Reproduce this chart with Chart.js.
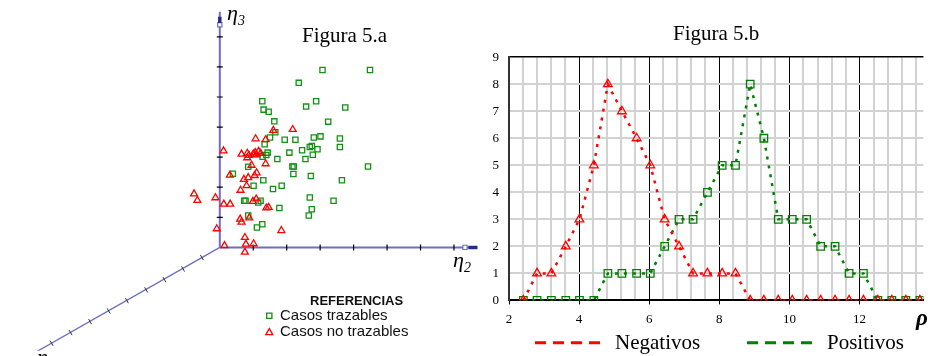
<!DOCTYPE html>
<html lang="es">
<head>
<meta charset="utf-8">
<title>Figura 5</title>
<script src="https://cdn.jsdelivr.net/npm/chart.js@4.4.1/dist/chart.umd.min.js"></script>
<style>
  html, body { margin: 0; padding: 0; background: #fff; }
  #wrap { position: relative; width: 930px; height: 356px; overflow: hidden; }
  #fig5a { position: absolute; left: 0; top: 0; }
  #fig5b { position: absolute; left: 480px; top: 0; }
</style>
</head>
<body>
<div id="wrap">
  <canvas id="fig5a" width="485" height="356"></canvas>
  <canvas id="fig5b" width="450" height="356"></canvas>
</div>
<script>
// ---------- Figura 5.a: casos proyectados sobre el plano (eta2, eta3) ----------
const trazablesEta2 = [3.07, 4.49, 2.36, 1.27, 2.88, 2.58, 3.75, 1.31, 1.46, 3.24, 1.63, 1.66, 1.50, 1.94,
  2.26, 2.81, 3.01, 3.59, 1.34, 3.59, 2.75, 2.69, 2.92, 2.46, 2.08, 1.43, 1.39, 2.78, 1.28, 1.72, 2.56,
  2.17, 2.21, 4.43, 0.85, 2.20, 2.72, 0.39, 1.30, 3.65, 1.01, 1.85, 1.59, 2.69, 0.77, 0.73, 1.22, 3.40,
  1.15, 1.78, 2.75, 2.66, 0.85, 1.27, 1.11];
const trazablesEta3 = [5.90, 5.90, 5.47, 4.86, 4.86, 4.68, 4.65, 4.58, 4.51, 4.18, 4.19, 3.83, 3.65, 3.58,
  3.58, 3.65, 3.69, 3.62, 3.43, 3.34, 3.37, 3.34, 3.26, 3.23, 3.15, 3.15, 3.07, 3.08, 3.01, 2.94, 2.94,
  2.69, 2.69, 2.69, 2.68, 2.44, 2.37, 2.45, 2.23, 2.23, 2.05, 2.05, 1.94, 1.66, 1.55, 1.55, 1.55, 1.55,
  1.49, 1.31, 1.27, 1.06, 1.06, 0.77, 0.66];

const noTrazablesEta2 = [2.18, 1.60, 1.07, 1.37, 0.11, 0.65, 0.82, 0.87, 0.82, 1.00, 1.06, 1.16, 1.22, 1.09,
  1.37, 0.95, 1.10, 1.04, 0.85, 0.72, 0.30, 0.80, 0.62, -0.77, -0.67, -0.13, 0.12, 0.31, 0.99, 1.09,
  1.39, 1.46, 0.61, 0.65, 0.88, -0.09, 1.84, 0.75, 0.14, 0.78, 1.01, 0.75];
const noTrazablesEta3 = [3.92, 3.89, 3.61, 3.58, 3.21, 3.10, 3.13, 3.06, 2.98, 3.10, 3.15, 3.19, 3.13, 3.08,
  2.78, 2.73, 2.48, 2.39, 2.32, 2.26, 2.40, 2.05, 1.90, 1.78, 1.56, 1.65, 1.44, 1.44, 1.53, 1.61,
  1.31, 1.33, 0.94, 0.84, 0.98, 0.62, 0.56, 0.33, 0.06, 0.11, 0.12, -0.16];

// marcas de los tres ejes (eta1 aparece en perspectiva)
const eta2Ticks = [1, 2, 3, 4, 5, 6, 7];
const eta3Ticks = [1, 2, 3, 4, 5, 6, 7];
const eta1TicksH = [-0.535, -1.099, -1.655, -2.202, -2.778, -3.322, -3.877, -4.462, -5.029];
const eta1TicksV = [-0.339, -0.716, -1.071, -1.413, -1.768, -2.113, -2.468, -2.832, -3.187];

// ---------- Figura 5.b: frecuencias segun rho ----------
const rho = [2.41, 2.80, 3.21, 3.62, 4.01, 4.42, 4.82, 5.22, 5.64, 6.03, 6.44, 6.85, 7.25, 7.66, 8.08,
  8.46, 8.88, 9.27, 9.68, 10.08, 10.49, 10.89, 11.30, 11.70, 12.11, 12.52, 12.92, 13.32, 13.72];
const negativos = [0, 1, 1, 2, 3, 5, 8, 7, 6, 5, 3, 2, 1, 1, 1, 1, 0, 0, 0, 0, 0, 0, 0, 0, 0, 0, 0, 0, 0];
const positivos = [0, 0, 0, 0, 0, 0, 1, 1, 1, 1, 2, 3, 3, 4, 5, 5, 8, 6, 3, 3, 3, 2, 2, 1, 1, 0, 0, 0, 0];

const AXIS_BLUE = '#6e6ebe';
const AXIS_DARK = '#2a2a8a';
const GREEN_A = '#129212';
const RED = '#ff0000';
const GREEN_B = '#008000';

const pts = (xs, ys) => xs.map((x, i) => ({ x: x, y: ys[i] }));

function drawMarker(ctx, style, radius, x, y, color) {
  ctx.save();
  ctx.strokeStyle = color;
  ctx.fillStyle = 'rgba(0,0,0,0)';
  ctx.lineWidth = 1.3;
  if (Chart.helpers && Chart.helpers.drawPoint) {
    Chart.helpers.drawPoint(ctx, { pointStyle: style, radius: radius, rotation: 0, borderWidth: 1.3 }, x, y);
  }
  ctx.restore();
}

// textos y referencias de la figura 5.a
const notesA = {
  id: 'notesA',
  afterDraw(chart) {
    const ctx = chart.ctx;
    ctx.save();
    ctx.fillStyle = '#000';
    ctx.textBaseline = 'alphabetic';
    ctx.textAlign = 'left';
    ctx.font = '21px "Liberation Serif"';
    ctx.fillText('Figura 5.a', 302, 41.5);

    const eta = (x, y, sub, big, small) => {
      ctx.font = 'italic ' + big + 'px "Liberation Serif"';
      ctx.fillText('\u03B7', x, y);
      const w = ctx.measureText('\u03B7').width;
      ctx.font = 'italic ' + small + 'px "Liberation Serif"';
      ctx.fillText(sub, x + w, y + 5);
    };
    eta(227, 20, '3', 22, 14);
    eta(453, 267, '2', 22, 14);
    eta(37, 364, '1', 22, 14);

    ctx.fillStyle = '#111';
    ctx.font = 'bold 13px "Liberation Sans"';
    ctx.fillText('REFERENCIAS', 310, 305);
    ctx.font = '15px "Liberation Sans"';
    ctx.fillText(chart.data.datasets[1].label, 280, 319.5);
    ctx.fillText(chart.data.datasets[0].label, 280, 336);
    drawMarker(ctx, 'rect', 3.7, 269.3, 315.7, GREEN_A);
    drawMarker(ctx, 'triangle', 4, 269.3, 332.6, RED);
    ctx.restore();
  }
};

new Chart(document.getElementById('fig5a'), {
  type: 'scatter',
  data: {
    datasets: [
      { label: 'Casos no trazables', data: pts(noTrazablesEta2, noTrazablesEta3),
        pointStyle: 'triangle', pointRadius: 4, borderWidth: 1.3,
        borderColor: RED, backgroundColor: 'rgba(0,0,0,0)' },
      { label: 'Casos trazables', data: pts(trazablesEta2, trazablesEta3),
        pointStyle: 'rect', pointRadius: 3.7, borderWidth: 1.3,
        borderColor: GREEN_A, backgroundColor: 'rgba(0,0,0,0)' },
      { label: 'marcas eta3', data: eta3Ticks.map(v => ({ x: 0, y: v })),
        pointStyle: 'line', pointRadius: 3, borderWidth: 1.2, borderColor: '#000' },
      { label: 'marcas eta2', data: eta2Ticks.map(v => ({ x: v, y: 0 })),
        pointStyle: 'line', rotation: 90, pointRadius: 3, borderWidth: 1.2, borderColor: '#000' },
      { label: 'marcas eta1', data: pts(eta1TicksH, eta1TicksV),
        pointStyle: 'line', rotation: 60, pointRadius: 3, borderWidth: 1, borderColor: '#333' },
      { label: 'punta eta3', data: [{ x: 0, y: 7.46 }, { x: 0, y: 7.67 }], showLine: true,
        pointRadius: 0, borderWidth: 3.5, borderColor: AXIS_DARK },
      { label: 'punta eta2', data: [{ x: 7.43, y: 0 }, { x: 7.7, y: 0 }], showLine: true,
        pointRadius: 0, borderWidth: 3.5, borderColor: AXIS_DARK },
      { label: 'nodo', data: [{ x: 0, y: 7.40 }, { x: 7.33, y: 0 }],
        pointStyle: 'rect', pointRadius: 3, borderWidth: 1.2, borderColor: AXIS_BLUE,
        backgroundColor: '#fff' },
      { label: 'eje eta3', data: [{ x: 0, y: 0 }, { x: 0, y: 7.83 }], showLine: true,
        pointRadius: 0, borderWidth: 2, borderColor: AXIS_BLUE },
      { label: 'eje eta2', data: [{ x: 0, y: 0 }, { x: 7.7, y: 0 }], showLine: true,
        pointRadius: 0, borderWidth: 2, borderColor: AXIS_BLUE },
      { label: 'eje eta1', data: [{ x: 0, y: 0 }, { x: -6.6, y: -4.18 }], showLine: true,
        pointRadius: 0, borderWidth: 1.3, borderColor: AXIS_BLUE }
    ]
  },
  options: {
    responsive: false,
    animation: false,
    events: [],
    layout: { padding: 0 },
    plugins: { legend: { display: false }, tooltip: { enabled: false } },
    scales: {
      x: { type: 'linear', display: false, min: -6.412, max: 7.769 },
      y: { type: 'linear', display: false, min: -3.435, max: 8.048 }
    }
  },
  plugins: [notesA]
});

// ---------- Figura 5.b ----------
const isEven = v => Math.abs(v / 2 - Math.round(v / 2)) < 1e-6;
const isStep = v => Math.abs(v / 0.4 - Math.round(v / 0.4)) < 1e-6;

// leyenda con trazo discontinuo y simbolo del eje horizontal
const notesB = {
  id: 'notesB',
  afterDraw(chart, args, opts) {
    const ctx = chart.ctx;
    ctx.save();
    opts.items.forEach(it => {
      const ds = chart.data.datasets[it.dataset];
      ctx.strokeStyle = ds.borderColor;
      ctx.lineWidth = opts.lineWidth;
      ctx.setLineDash(opts.dash);
      ctx.beginPath();
      ctx.moveTo(it.x, opts.lineY);
      ctx.lineTo(it.x + opts.length, opts.lineY);
      ctx.stroke();
      ctx.setLineDash([]);
      ctx.fillStyle = '#000';
      ctx.font = opts.font;
      ctx.textBaseline = 'alphabetic';
      ctx.fillText(ds.label, it.x + opts.length + opts.gap, opts.baseline);
    });
    ctx.font = 'italic bold 23px "Liberation Serif"';
    ctx.fillStyle = '#000';
    ctx.fillText('\u03C1', 436, 325);
    ctx.restore();
  }
};

new Chart(document.getElementById('fig5b'), {
  type: 'line',
  data: {
    datasets: [
      { label: 'Negativos', data: pts(rho, negativos),
        borderColor: RED, borderWidth: 2.5, borderDash: [3, 6], tension: 0, fill: false,
        pointStyle: 'triangle', pointRadius: 5, pointBorderWidth: 1.3,
        pointBorderColor: RED, pointBackgroundColor: 'rgba(0,0,0,0)' },
      { label: 'Positivos', data: pts(rho, positivos),
        borderColor: GREEN_B, borderWidth: 2.5, borderDash: [3, 6], tension: 0, fill: false,
        pointStyle: 'rect', pointRadius: 5.3, pointBorderWidth: 1.3,
        pointBorderColor: GREEN_B, pointBackgroundColor: 'rgba(0,0,0,0)' }
    ]
  },
  options: {
    responsive: false,
    animation: false,
    events: [],
    layout: { padding: { left: 0, right: 4, top: 0, bottom: 22 } },
    plugins: {
      legend: { display: false },
      tooltip: { enabled: false },
      title: {
        display: true, text: 'Figura 5.b', fullSize: false, color: '#000',
        font: { family: '"Liberation Serif"', size: 21, weight: 'normal' },
        padding: { top: 22, bottom: 10 }
      },
      notesB: {
        items: [{ dataset: 0, x: 55 }, { dataset: 1, x: 267 }],
        lineY: 342.7, length: 67, gap: 13, lineWidth: 3, dash: [11, 7],
        baseline: 348.5, font: '21px "Liberation Serif"'
      }
    },
    scales: {
      x: {
        type: 'linear', min: 2, max: 13.82, bounds: 'data',
        border: { color: '#000', width: 2 },
        grid: {
          color: c => isEven(c.tick.value) ? '#000' : (isStep(c.tick.value) ? '#d2d2d2' : 'rgba(0,0,0,0)'),
          lineWidth: c => isEven(c.tick.value) ? 1 : 2,
          tickColor: c => isEven(c.tick.value) ? '#000' : 'rgba(0,0,0,0)',
          tickLength: 4
        },
        ticks: {
          stepSize: 0.4, includeBounds: false, autoSkip: false, maxRotation: 0, minRotation: 0,
          padding: 7, color: '#000',
          font: { family: '"Liberation Serif"', size: 13 },
          callback: v => isEven(v) ? String(Math.round(v)) : ''
        }
      },
      y: {
        min: 0, max: 9,
        afterFit: s => { s.width = 29; },
        border: { color: '#333', width: 2 },
        grid: {
          color: c => c.tick.value === 9 ? '#000' : '#d2d2d2',
          lineWidth: c => c.tick.value === 9 ? 1.5 : 2,
          drawTicks: false
        },
        ticks: {
          stepSize: 1, padding: 10, color: '#000',
          font: { family: '"Liberation Serif"', size: 13 }
        }
      }
    }
  },
  plugins: [notesB]
});
</script>
</body>
</html>
